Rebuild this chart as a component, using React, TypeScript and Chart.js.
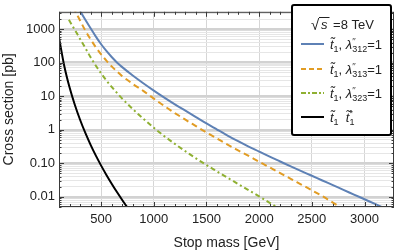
import React, { useEffect, useRef } from "react";
import { Chart, registerables } from "chart.js";

Chart.register(...registerables);

// ---- data ----
const massL312 = [200, 250, 300, 350, 400, 450, 500, 550, 600, 650, 700, 800, 900, 1000, 1100, 1200, 1300, 1400, 1500, 1600, 1700, 1800, 1900, 2000, 2100, 2200, 2300, 2400, 2500, 2600, 2700, 2800, 2900, 3000, 3100, 3200];
const xsecL312 = [16000, 7100, 3550, 1900, 1070, 600, 355, 224, 148, 102, 74, 41.7, 24.5, 14.8, 9.12, 5.75, 3.72, 2.4, 1.55, 1.02, 0.676, 0.457, 0.316, 0.224, 0.158, 0.1135, 0.0813, 0.0589, 0.0427, 0.0309, 0.0224, 0.0162, 0.01175, 0.00851, 0.00617, 0.00447];

const massL313 = [200, 250, 300, 350, 400, 450, 500, 550, 600, 650, 700, 800, 900, 1000, 1100, 1200, 1300, 1400, 1500, 1600, 1700, 1800, 1900, 2000, 2100, 2200, 2300, 2400, 2500, 2600, 2700, 2800];
const xsecL313 = [8900, 3700, 1820, 912, 501, 288, 178, 115, 77.6, 55, 39.8, 23.4, 14.5, 8.51, 5.13, 3.16, 2.0, 1.29, 0.832, 0.55, 0.363, 0.245, 0.166, 0.112, 0.0759, 0.0513, 0.0347, 0.0234, 0.0158, 0.0105, 0.00676, 0.00437];

const massL323 = [194, 250, 300, 350, 400, 450, 500, 550, 600, 650, 700, 800, 900, 1000, 1100, 1200, 1300, 1400, 1500, 1600, 1700, 1800, 1900, 2000, 2100, 2200];
const xsecL323 = [1900, 955, 513, 275, 145, 81.3, 47.9, 29.5, 19.1, 12.6, 8.51, 4.17, 2.14, 1.15, 0.646, 0.38, 0.229, 0.141, 0.0891, 0.0575, 0.0372, 0.0243, 0.0158, 0.01035, 0.00668, 0.00432];

const massPair = [100, 150, 200, 250, 300, 350, 400, 450, 500, 550, 600, 650, 700, 750, 800];
const xsecPair = [559.8, 80.27, 18.52, 5.576, 1.996, 0.8073, 0.3568, 0.1697, 0.08558, 0.04521, 0.0248, 0.01396, 0.008114, 0.004806, 0.002896];

const xTickLabels = [500, 1000, 1500, 2000, 2500, 3000];
const yTickValues = [1000, 100, 10, 1, 0.1, 0.01];
const yTickLabels = ["1000", "100", "10", "1", "0.10", "0.01"];

const seriesNames = ["L312", "L313", "L323", "pair"];
const legendTitle = "=8 TeV";

const FONT = "'Liberation Sans', Arial, sans-serif";
const COL_BLUE = "#5E81B5";
const COL_ORANGE = "#E19C24";
const COL_GREEN = "#8FB032";

const X_MIN = 100;
const X_MAX = 3280;
const Y_MIN = 0.005;
const Y_MAX = 3300;

function isDecade(v: number) {
  const l = Math.log10(v);
  return Math.abs(l - Math.round(l)) < 1e-6;
}

type Seg = { t: string; size: number; italic?: boolean; dy?: number; stack?: { t: string; dy: number }[] };

function drawRich(ctx: CanvasRenderingContext2D, x: number, y: number, segs: Seg[]) {
  let cx = x;
  ctx.textBaseline = "alphabetic";
  ctx.textAlign = "left";
  for (const s of segs) {
    ctx.font = `${s.italic ? "italic " : ""}${s.size}px ${FONT}`;
    if (s.stack) {
      let w = 0;
      for (const st of s.stack) {
        ctx.fillText(st.t, cx, y + st.dy);
        w = Math.max(w, ctx.measureText(st.t).width);
      }
      cx += w;
    } else {
      ctx.fillText(s.t, cx, y + (s.dy || 0));
      cx += ctx.measureText(s.t).width;
    }
  }
  return cx;
}

const lambdaLabel = (idx: string): Seg[] => [
  { t: "t\u0303", size: 13, italic: true },
  { t: "1", size: 9, dy: 3 },
  { t: ", ", size: 13 },
  { t: "\u03bb", size: 13, italic: true },
  { t: "", size: 9, stack: [{ t: "\u2032\u2032", dy: -5 }, { t: idx, dy: 3 }] },
  { t: "=1", size: 13 },
];

const pairLabel: Seg[] = [
  { t: "t\u0303", size: 13, italic: true },
  { t: "1", size: 9, dy: 3 },
  { t: "  ", size: 13 },
  { t: "t\u0303", size: 13, italic: true },
  { t: "", size: 9, stack: [{ t: "*", dy: -6 }, { t: "1", dy: 3 }] },
];

const frameLegendPlugin = {
  id: "frameLegend",
  afterDatasetsDraw(chart: any) {
    const ctx: CanvasRenderingContext2D = chart.ctx;
    const { left, right, top, bottom } = chart.chartArea;
    const xs = chart.scales.x;
    const ys = chart.scales.y;
    ctx.save();
    ctx.strokeStyle = "#3a3a3a";
    ctx.lineWidth = 1;
    ctx.strokeRect(left + 0.5, top + 0.5, right - left - 1, bottom - top - 1);
    ctx.beginPath();
    for (let v = 100; v <= X_MAX; v += 100) {
      const px = Math.round(xs.getPixelForValue(v)) + 0.5;
      const len = v % 500 === 0 ? 5 : 3;
      ctx.moveTo(px, bottom);
      ctx.lineTo(px, bottom - len);
      ctx.moveTo(px, top);
      ctx.lineTo(px, top + len);
    }
    for (let e = -3; e <= 3; e++) {
      for (let k = 1; k <= 9; k++) {
        const v = k * Math.pow(10, e);
        if (v < Y_MIN || v > Y_MAX) continue;
        const py = Math.round(ys.getPixelForValue(v)) + 0.5;
        const len = k === 1 ? 5 : 2.5;
        ctx.moveTo(left, py);
        ctx.lineTo(left + len, py);
        ctx.moveTo(right, py);
        ctx.lineTo(right - len, py);
      }
    }
    ctx.stroke();
    ctx.restore();
  },
  afterDraw(chart: any) {
    const ctx: CanvasRenderingContext2D = chart.ctx;
    ctx.save();
    const bx = 292, by = 5, bw = 99, bh = 130;
    ctx.fillStyle = "#ffffff";
    ctx.beginPath();
    ctx.roundRect(bx, by, bw, bh, 2);
    ctx.fill();
    ctx.lineWidth = 2;
    ctx.strokeStyle = "#000000";
    ctx.stroke();

    ctx.fillStyle = "#222222";
    ctx.font = `15px ${FONT}`;
    ctx.textBaseline = "alphabetic";
    ctx.fillText("\u221a", 311, 30);
    const sx = 320;
    ctx.font = `italic 13px ${FONT}`;
    ctx.fillText("s", sx + 1, 29);
    const sw = ctx.measureText("s").width;
    ctx.beginPath();
    ctx.lineWidth = 1;
    ctx.strokeStyle = "#222222";
    ctx.moveTo(sx - 1, 17.5);
    ctx.lineTo(sx + sw + 3, 17.5);
    ctx.stroke();
    ctx.font = `13px ${FONT}`;
    ctx.fillText(" " + legendTitle, sx + sw + 3, 29);

    const rows = [
      { y: 44, color: COL_BLUE, dash: [] as number[], label: lambdaLabel("312") },
      { y: 69, color: COL_ORANGE, dash: [5, 3], label: lambdaLabel("313") },
      { y: 93, color: COL_GREEN, dash: [5, 2, 2, 2], label: lambdaLabel("323") },
      { y: 117, color: "#000000", dash: [], label: pairLabel },
    ];
    for (const r of rows) {
      ctx.beginPath();
      ctx.setLineDash(r.dash);
      ctx.strokeStyle = r.color;
      ctx.lineWidth = 2;
      ctx.moveTo(301, r.y);
      ctx.lineTo(324, r.y);
      ctx.stroke();
      ctx.setLineDash([]);
      ctx.fillStyle = "#222222";
      drawRich(ctx, 330, r.y + 5, r.label);
    }
    ctx.restore();
  },
};

export default function App() {
  const ref = useRef<HTMLCanvasElement | null>(null);
  useEffect(() => {
    document.body.style.margin = "0";
    const canvas = ref.current!;
    const mk = (xs: number[], ys: number[]) => xs.map((m, i) => ({ x: m, y: ys[i] }));
    const chart = new Chart(canvas, {
      type: "line",
      data: {
        datasets: [
          { label: seriesNames[0], data: mk(massL312, xsecL312), borderColor: COL_BLUE, borderWidth: 2, pointRadius: 0, cubicInterpolationMode: "monotone", fill: false },
          { label: seriesNames[1], data: mk(massL313, xsecL313), borderColor: COL_ORANGE, borderWidth: 2, borderDash: [6, 4], pointRadius: 0, cubicInterpolationMode: "monotone", fill: false },
          { label: seriesNames[2], data: mk(massL323, xsecL323), borderColor: COL_GREEN, borderWidth: 2, borderDash: [5, 3, 2, 3], pointRadius: 0, cubicInterpolationMode: "monotone", fill: false },
          { label: seriesNames[3], data: mk(massPair, xsecPair), borderColor: "#000000", borderWidth: 2, pointRadius: 0, cubicInterpolationMode: "monotone", fill: false },
        ],
      },
      options: {
        animation: false,
        responsive: false,
        devicePixelRatio: 1,
        layout: { padding: { top: 1, right: 5, left: 0, bottom: 0 } },
        plugins: { legend: { display: false }, tooltip: { enabled: false } },
        scales: {
          x: {
            type: "linear",
            min: X_MIN,
            max: X_MAX,
            afterBuildTicks: (s: any) => {
              const t = [];
              for (let v = 100; v <= X_MAX; v += 100) t.push({ value: v });
              s.ticks = t;
            },
            afterFit: (s: any) => { s.height = 45; },
            border: { display: false },
            grid: {
              drawTicks: false,
              color: (c: any) => (c.tick && xTickLabels.includes(c.tick.value) ? "#d6d6d6" : "rgba(0,0,0,0)"),
              lineWidth: 1,
            },
            ticks: {
              autoSkip: false,
              maxRotation: 0,
              padding: 5,
              color: "#222222",
              font: { family: FONT, size: 13 },
              callback: (v: any) => (xTickLabels.includes(v) ? String(v) : ""),
            },
            title: { display: true, text: "Stop mass [GeV]", color: "#222222", font: { family: FONT, size: 14 }, padding: { top: 0, bottom: 0.5 } },
          },
          y: {
            type: "logarithmic",
            min: Y_MIN,
            max: Y_MAX,
            afterBuildTicks: (s: any) => {
              const t = [];
              for (let e = -3; e <= 3; e++) for (let k = 1; k <= 9; k++) {
                const v = parseFloat((k * Math.pow(10, e)).toPrecision(6));
                if (v >= Y_MIN && v <= Y_MAX) t.push({ value: v });
              }
              s.ticks = t;
            },
            afterFit: (s: any) => { s.width = 59; },
            border: { display: false },
            grid: {
              drawTicks: false,
              color: (c: any) => (c.tick && isDecade(c.tick.value) ? "#d2d2d2" : "#e6e6e6"),
              lineWidth: (c: any) => (c.tick && isDecade(c.tick.value) ? 2.5 : 1),
            },
            ticks: {
              autoSkip: false,
              padding: 4,
              color: "#222222",
              font: { family: FONT, size: 13 },
              callback: (v: any) => {
                const i = yTickValues.findIndex((t) => Math.abs(Math.log10(t) - Math.log10(v)) < 1e-6);
                return i >= 0 ? yTickLabels[i] : "";
              },
            },
            title: { display: true, text: "Cross section [pb]", color: "#222222", font: { family: FONT, size: 14 }, padding: { top: 1, bottom: 0 } },
          },
        },
      },
      plugins: [frameLegendPlugin],
    } as any);
    return () => chart.destroy();
  }, []);
  return (
    <div style={{ position: "absolute", left: 0, top: 0, width: 399, height: 252 }}>
      <canvas ref={ref} width={399} height={252} />
    </div>
  );
}
